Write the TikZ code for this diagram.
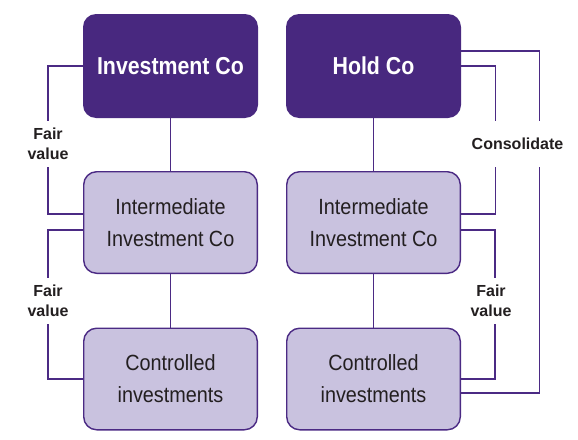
\documentclass[tikz,border=0pt]{standalone}
\usepackage{fontspec}
\setmainfont{Liberation Sans}
\newfontfamily\boxfont[FakeStretch=0.9]{Liberation Sans}
\newfontfamily\topfont[FakeStretch=0.87]{Liberation Sans Bold}
\newfontfamily\lblfont{Liberation Sans Bold}
\definecolor{darkpurple}{HTML}{48287F}
\definecolor{lightpurple}{HTML}{C9C2DF}
\definecolor{linepurple}{HTML}{4B2A84}
\definecolor{textdark}{HTML}{231F20}
\tikzset{
  topbox/.style={draw=none, fill=darkpurple, rounded corners=13pt, minimum width=175pt, minimum height=104pt, inner sep=0pt, text=white, font=\topfont\fontsize{24.5}{30}\selectfont, align=center},
  subbox/.style={draw=linepurple, line width=1.4pt, fill=lightpurple, rounded corners=13pt, minimum width=173.6pt, minimum height=101.6pt, inner sep=0pt, text=textdark, font=\boxfont\fontsize{22}{32}\selectfont, align=center},
  conn/.style={draw=linepurple, line width=1.4pt},
  lbl/.style={fill=white, text=textdark, font=\lblfont\fontsize{16}{19.5}\selectfont, align=center, minimum height=46pt, inner xsep=2pt, inner ysep=0pt}
}
\begin{document}
\begin{tikzpicture}[x=1pt,y=-1pt]
\useasboundingbox (0,0) rectangle (578,439);
\node[topbox] (ic) at (170.5,66) {Investment Co};
\node[topbox] (hc) at (373.5,66) {Hold Co};
\node[subbox] (iic) at (170.5,222.5) {Intermediate\\Investment Co};
\node[subbox] (iic2) at (373.5,222.5) {Intermediate\\Investment Co};
\node[subbox] (ci) at (170.5,379) {Controlled\\investments};
\node[subbox] (ci2) at (373.5,379) {Controlled\\investments};
% vertical connectors
\draw[conn] (ic) -- (iic);
\draw[conn] (iic) -- (ci);
\draw[conn] (hc) -- (iic2);
\draw[conn] (iic2) -- (ci2);
% brackets
\draw[conn] (ic.west) -- ++(-35,0) |- ([yshift=8.5pt]iic.west);
\draw[conn] ([yshift=-7.5pt]iic.west) -- ++(-35,0) |- (ci.west);
\draw[conn] (hc.east) -- ++(34,0) |- ([yshift=8.5pt]iic2.east);
\draw[conn] ([yshift=-7.5pt]iic2.east) -- ++(34,0) |- (ci2.east);
\draw[conn] ([yshift=15pt]hc.east) -- ++(78,0) |- ([yshift=-14pt]ci2.east);
% labels
\node[lbl] (fv1) at (48,144) {Fair\\value};
\node[lbl] (fv2) at (48,301) {Fair\\value};
\node[lbl] (cons) at (517.5,144) {Consolidate};
\node[lbl] (fv3) at (491,301) {Fair\\value};
\end{tikzpicture}
\end{document}
